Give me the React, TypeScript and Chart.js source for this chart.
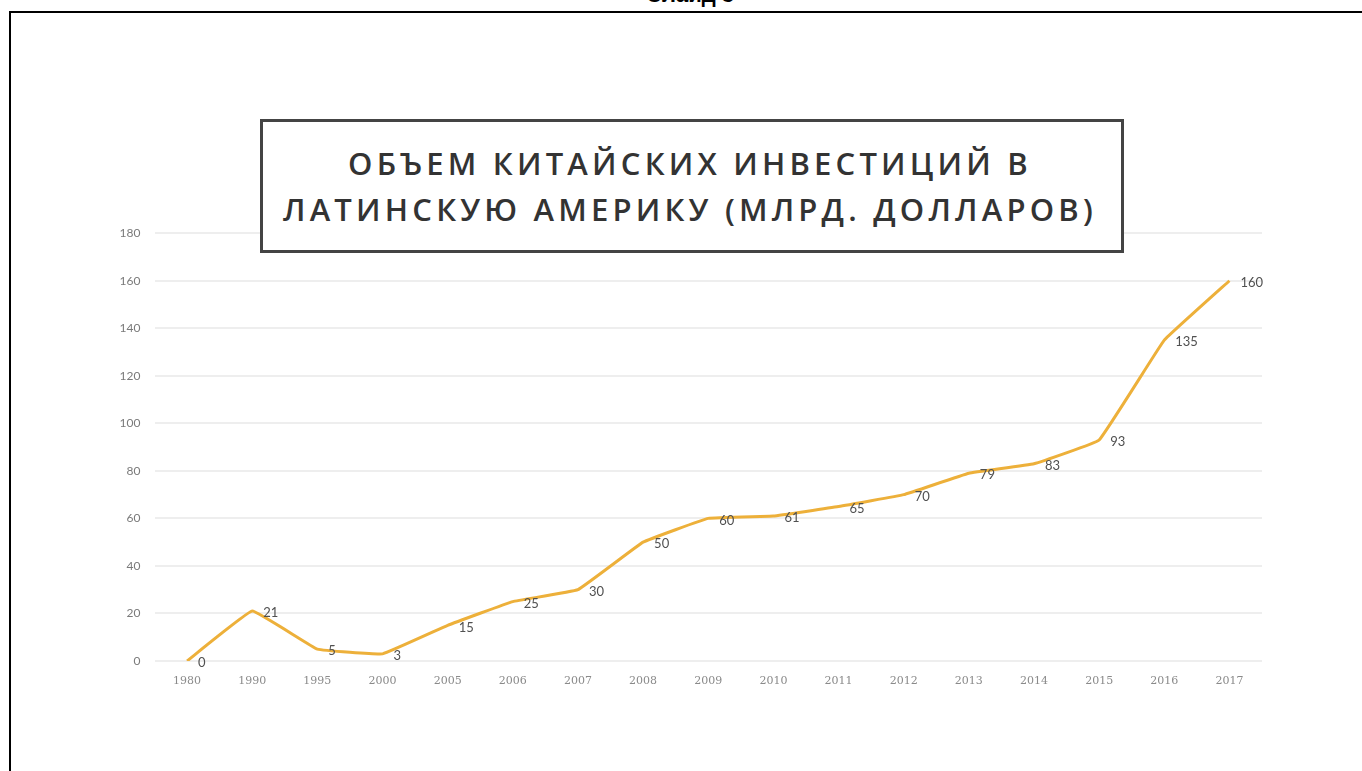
import React, { useEffect, useRef } from "react";
import { Chart, registerables } from "chart.js";

Chart.register(...registerables);

const years = ["1980", "1990", "1995", "2000", "2005", "2006", "2007", "2008", "2009", "2010", "2011", "2012", "2013", "2014", "2015", "2016", "2017"];
const investments = [0, 21, 5, 3, 15, 25, 30, 50, 60, 61, 65, 70, 79, 83, 93, 135, 160];
const yTicks = [0, 20, 40, 60, 80, 100, 120, 140, 160, 180];
const titleLines = ["ОБЪЕМ КИТАЙСКИХ ИНВЕСТИЦИЙ В", "ЛАТИНСКУЮ АМЕРИКУ (МЛРД. ДОЛЛАРОВ)"];

const valueLabels = {
  id: "valueLabels",
  afterDatasetsDraw(chart: any) {
    const ctx = chart.ctx;
    const meta = chart.getDatasetMeta(0);
    ctx.save();
    ctx.font = "13px Lato, 'DejaVu Sans', sans-serif";
    ctx.fillStyle = "#505050";
    ctx.textAlign = "left";
    ctx.textBaseline = "middle";
    meta.data.forEach((pt: any, i: number) => {
      ctx.fillText(String(investments[i]), pt.x + 11, pt.y + 2);
    });
    ctx.restore();
  },
};

export default function App() {
  const canvasRef = useRef<HTMLCanvasElement | null>(null);

  useEffect(() => {
    if (!canvasRef.current) return;
    const chart = new Chart(canvasRef.current, {
      type: "line",
      data: {
        labels: years,
        datasets: [
          {
            data: investments,
            borderColor: "#EDB03A",
            borderWidth: 3,
            pointRadius: 0,
            tension: 0.07,
            fill: false,
          },
        ],
      },
      options: {
        responsive: false,
        animation: false,
        layout: { padding: { top: 0, right: 38, bottom: 1, left: 0 } },
        plugins: { legend: { display: false }, tooltip: { enabled: false } },
        scales: {
          x: {
            offset: true,
            grid: { display: false, drawTicks: false },
            border: { display: false },
            ticks: {
              color: "#8a8a8a",
              font: { family: "'DejaVu Serif', serif", size: 11 },
              padding: 14,
              maxRotation: 0,
            },
            afterFit: (s: any) => {
              s.height = 30;
            },
          },
          y: {
            min: 0,
            max: 180,
            afterBuildTicks: (s: any) => {
              s.ticks = yTicks.map((v) => ({ value: v }));
            },
            grid: { color: "#eeeeee", lineWidth: 2, drawTicks: false },
            border: { display: false },
            ticks: {
              color: "#7a7a7a",
              font: { family: "Lato, 'DejaVu Sans', sans-serif", size: 12 },
              padding: 14,
            },
            afterFit: (s: any) => {
              s.width = 54.5;
            },
          },
        },
      },
      plugins: [valueLabels],
    });
    return () => chart.destroy();
  }, []);

  return (
    <div style={{ position: "absolute", left: 0, top: 0, width: 1362, height: 771, overflow: "hidden", background: "#fff" }}>
      <div
        style={{
          position: "absolute",
          left: 0,
          width: 1380,
          top: -16,
          textAlign: "center",
          font: "bold 22px 'Liberation Sans', Arial, sans-serif",
          lineHeight: "22px",
          color: "#000",
        }}
      >
        Слайд 3
      </div>
      <div style={{ position: "absolute", left: 9, top: 11, width: 1400, height: 2, background: "#000" }} />
      <div style={{ position: "absolute", left: 9, top: 11, width: 2, height: 800, background: "#000" }} />
      <canvas
        ref={canvasRef}
        width={1200}
        height={480}
        style={{ position: "absolute", left: 100, top: 212, width: 1200, height: 480 }}
      />
      <div
        style={{
          position: "absolute",
          left: 260,
          top: 119,
          width: 864,
          height: 134,
          boxSizing: "border-box",
          border: "3px solid #444",
          background: "#fff",
          display: "flex",
          flexDirection: "column",
          alignItems: "center",
          justifyContent: "center",
          font: "600 31px 'Open Sans', sans-serif",
          letterSpacing: "4.2px",
          color: "#333",
          lineHeight: "46px",
          paddingRight: 4,
        }}
      >
        {titleLines.map((t) => (
          <div key={t}>{t}</div>
        ))}
      </div>
    </div>
  );
}
